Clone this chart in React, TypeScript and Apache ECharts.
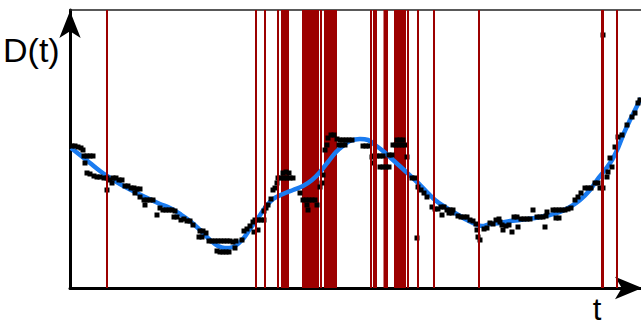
import React, { useEffect, useRef } from "react";
import * as echarts from "echarts";

// Observed samples [t, D]
const observed: [number, number][] = [
  [2, 142], [5, 142], [8, 141], [11, 140], [13, 138], [14, 132], [17, 132], [20, 132], [23, 132], [15, 125],
  [17, 115], [20, 114], [24, 112], [27, 111], [30, 111], [34, 110], [37, 110], [37, 98], [40, 108], [43, 110],
  [46, 110], [49, 108], [52, 108], [42, 105], [55, 102], [58, 102], [61, 100], [64, 100], [67, 99], [70, 99],
  [65, 95], [70, 91],
  [74, 88], [77, 88], [80, 88], [83, 88], [75, 83], [87, 73], [90, 80], [93, 78], [96, 78], [99, 78],
  [102, 78], [105, 77], [104, 71], [107, 71], [111, 68], [114, 69], [117, 67], [120, 67], [123, 63], [130, 57],
  [133, 57], [136, 55], [129, 51], [132, 51], [139, 47], [142, 47], [145, 47], [148, 47], [151, 47], [154, 47],
  [157, 47], [160, 47], [163, 46], [166, 47], [147, 37], [150, 36], [153, 36], [156, 36], [159, 36], [165, 40],
  [172, 48], [174, 57], [177, 59], [180, 62], [183, 66], [185, 68], [188, 68], [191, 68], [194, 68], [188, 58],
  [184, 56], [194, 77], [196, 80], [198, 83], [201, 89], [203, 98], [205, 100], [207, 105], [208, 110], [211, 110],
  [214, 110], [217, 110], [220, 110], [223, 110], [213, 115], [216, 116], [219, 115], [230, 95],
  [233, 88], [236, 88], [239, 88], [242, 88], [245, 88], [237, 83], [238, 78], [247, 83], [250, 101], [252, 105],
  [253, 113], [255, 138], [257, 143], [258, 150], [261, 153], [264, 153], [267, 149], [270, 148], [273, 148], [276, 148],
  [279, 148], [282, 148], [269, 143], [272, 143], [275, 143], [293, 142], [296, 142], [299, 142],
  [302, 131], [303, 125], [304, 132], [307, 132], [310, 132], [313, 132], [310, 121], [313, 121], [316, 121], [319, 121],
  [319, 133], [322, 133], [323, 143], [326, 143], [329, 143], [332, 143], [335, 143], [327, 148], [330, 148], [333, 148],
  [337, 131], [342, 110], [345, 110], [347, 50], [348, 101], [351, 98], [354, 95], [357, 91],
  [362, 81], [365, 79], [368, 79], [371, 81], [374, 81], [377, 78], [380, 78], [383, 78], [372, 73], [379, 75],
  [382, 75], [388, 72], [391, 71], [394, 71], [397, 71], [400, 68], [403, 67], [406, 64], [407, 58], [408, 51],
  [410, 48], [414, 59], [417, 60], [420, 65], [423, 64], [426, 68], [429, 69], [432, 63],
  [430, 66], [433, 58], [436, 62], [439, 63], [442, 56], [444, 71], [447, 71], [448, 61], [451, 69], [454, 69],
  [457, 69], [460, 69], [463, 78], [467, 71], [470, 71], [473, 71], [476, 72], [475, 61], [477, 76], [483, 78],
  [486, 78], [489, 78], [492, 78], [495, 78], [498, 79], [501, 80], [486, 70], [489, 70], [505, 88], [508, 91],
  [511, 95], [515, 100], [518, 100], [521, 100], [525, 105], [528, 105], [530, 100], [533, 100], [533, 253], [537, 111],
  [538, 116], [540, 130], [542, 121], [545, 141], [548, 151], [552, 153], [557, 163], [562, 171], [565, 175], [568, 185],
  [570, 188],
];

// Smoothed estimate [t, D]
const smoothed: [number, number][] = [
  [1, 140], [10, 133], [20, 125], [30, 117], [37, 112], [50, 104], [63, 97], [75, 91], [90, 84], [100, 80],
  [110, 74], [120, 67], [130, 58], [140, 48], [148, 42], [155, 40], [163, 41], [172, 48], [180, 59], [188, 70],
  [195, 80], [203, 89], [213, 94], [223, 98], [233, 102], [242, 108], [250, 116], [258, 126], [266, 136], [274, 143],
  [280, 147], [290, 149], [298, 148], [305, 143], [313, 137], [323, 128], [333, 119], [345, 108], [355, 98], [365, 88],
  [375, 81], [385, 75], [395, 69], [405, 64], [412, 62], [420, 64], [430, 65], [440, 67], [450, 68], [465, 70],
  [480, 73], [490, 76], [500, 81], [510, 88], [520, 98], [527, 108], [535, 118], [542, 128], [548, 140], [554, 155],
  [560, 168], [566, 180], [571, 190],
];

// Detected change events (single instants) and dense event spans
const eventTimes: number[] = [37, 186, 195, 208, 250.5, 301, 303.5, 306, 337.5, 347.5, 364, 409, 532, 533, 547];
const eventSpans: [number, number][] = [
  [211, 219], [232, 249], [254, 267], [313.5, 318], [324, 336],
];

const T_MAX = 571;
const D_MAX = 278;

export default function App() {
  const ref = useRef<HTMLDivElement>(null);
  useEffect(() => {
    if (!ref.current) return;
    const chart = echarts.init(ref.current, undefined, { renderer: "svg" });
    const red = "#9c0000";
    chart.setOption({
      animation: false,
      grid: { left: 70, right: 0, top: 10, bottom: 37 },
      xAxis: [
        {
          type: "value",
          min: 0,
          max: T_MAX,
          axisLabel: { show: false },
          axisTick: { show: false },
          splitLine: { show: false },
          axisLine: {
            show: true,
            onZero: false,
            lineStyle: { color: "#000", width: 3 },
            symbol: ["none", "arrow"],
            symbolSize: [17, 27],
            symbolOffset: [0, 1],
          },
        },
        {
          type: "value",
          position: "top",
          min: 0,
          max: T_MAX,
          axisLabel: { show: false },
          axisTick: { show: false },
          splitLine: { show: false },
          axisLine: { show: true, onZero: false, lineStyle: { color: "#222", width: 1.5 } },
        },
      ],
      yAxis: {
        type: "value",
        min: 0,
        max: D_MAX,
        axisLabel: { show: false },
        axisTick: { show: false },
        splitLine: { show: false },
        axisLine: {
          show: true,
          onZero: false,
          lineStyle: { color: "#000", width: 3 },
          symbol: ["none", "arrow"],
          symbolSize: [16, 27],
          symbolOffset: [0, -1],
        },
      },
      graphic: [
        {
          type: "text",
          style: {
            text: "D(t)",
            x: 3,
            y: 50,
            font: '34px "Liberation Sans", Arial, sans-serif',
            fill: "#000",
            textAlign: "left",
            textVerticalAlign: "middle",
          },
        },
        {
          type: "text",
          style: {
            text: "t",
            x: 597,
            y: 309,
            font: '31px "Liberation Sans", Arial, sans-serif',
            fill: "#000",
            textAlign: "center",
            textVerticalAlign: "middle",
          },
        },
      ],
      series: [
        {
          type: "scatter",
          data: [],
          z: 1,
          silent: true,
          markLine: {
            silent: true,
            symbol: ["none", "none"],
            label: { show: false },
            lineStyle: { color: red, width: 2, type: "solid" },
            emphasis: { disabled: true },
            data: eventTimes.map((t) => ({ xAxis: t })),
          },
          markArea: {
            silent: true,
            itemStyle: { color: red, opacity: 1 },
            label: { show: false },
            data: eventSpans.map(([a, b]) => [{ xAxis: a }, { xAxis: b }]),
          },
        },
        {
          type: "line",
          data: smoothed,
          smooth: 0.4,
          showSymbol: false,
          z: 3,
          silent: true,
          lineStyle: { color: "#1a7bf0", width: 4.5 },
        },
        {
          type: "scatter",
          data: observed,
          symbol: "rect",
          symbolSize: 5,
          z: 4,
          silent: true,
          itemStyle: { color: "#000", opacity: 1 },
        },
      ],
    });
    return () => chart.dispose();
  }, []);
  return (
    <div
      ref={ref}
      style={{ position: "absolute", left: 0, top: 0, width: 641, height: 325 }}
    />
  );
}
